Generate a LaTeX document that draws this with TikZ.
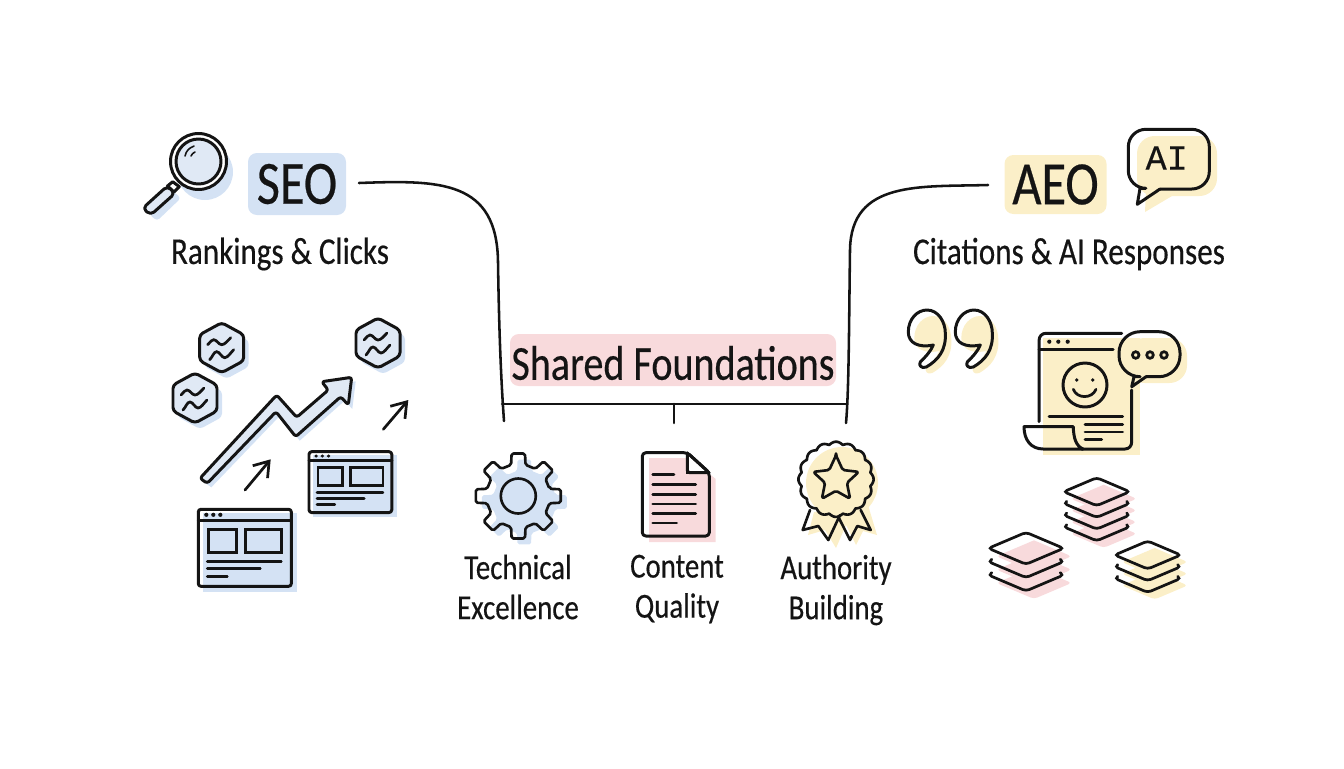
\documentclass[tikz,border=0pt]{standalone}
\usepackage{fontspec}
\setmainfont[FakeStretch=0.82,FakeBold=0.4]{Carlito}
\newfontfamily\aifont[FakeBold=0.3]{Liberation Mono}
\usetikzlibrary{arrows.meta}
\definecolor{ink}{HTML}{141414}
\definecolor{washBlue}{HTML}{D4E2F4}
\definecolor{paleBlue}{HTML}{E0E9F5}
\definecolor{washYellow}{HTML}{FBEFC8}
\definecolor{washPink}{HTML}{F8DADC}
\tikzset{
  icon/.style={draw=ink,line width=1.7pt,line join=round,line cap=round},
  fine/.style={draw=ink,line width=1.55pt,line cap=round},
  link/.style={draw=ink,line width=1.45pt,line cap=round},
  title/.style={fill=#1,rounded corners=5pt,inner sep=0pt,font=\fontsize{35}{35}\selectfont,text=ink},
  lbl/.style={align=center,text=ink,font=\fontsize{20}{22.8}\selectfont},
  headlbl/.style={text=ink,font=\fontsize{21.6}{24}\selectfont},
  pics/hexicon/.style={code={
    \fill[washBlue,rounded corners=2pt,shift={(5,6)}] (0,-25) -- (22,-13) -- (22,13) -- (0,25) -- (-22,13) -- (-22,-13) -- cycle;
    \draw[icon,fill=paleBlue,rounded corners=2pt] (0,-25) -- (22,-13) -- (22,13) -- (0,25) -- (-22,13) -- (-22,-13) -- cycle;
    \draw[fine] (-14,-3) .. controls (-11,-6) and (-10,-8) .. (-8,-8) .. controls (-5,-8) and (-3,-3) .. (0,-3) .. controls (3,-3) and (6,-7) .. (9,-10);
    \draw[fine] (-12,12) .. controls (-9,9) and (-8,4) .. (-5,4) .. controls (-2,4) and (0,10) .. (3,10) .. controls (6,10) and (9,5) .. (12,2);
  }},
  pics/browser/.style={code={
    \fill[washBlue] (5,4) rectangle (99,83);
    \draw[icon,rounded corners=1.5pt] (0,0) rectangle (93,77);
    \draw[icon] (0,11) -- (93,11);
    \foreach \dx in {8,15,22} \fill[ink] (\dx,5.5) circle [radius=2.1];
    \draw[fine] (10,20) rectangle (38,43);
    \draw[fine] (47,20) rectangle (83,43);
    \draw[fine] (9,52) -- (83,52);
    \draw[fine] (9,59) -- (62,59);
    \draw[fine] (9,67) -- (29,67);
  }},
  pics/quotemark/.style={code={
    \fill[washYellow,shift={(6,6)}] (18.7,0) .. controls (30,0) and (37,12) .. (37,23) .. controls (38,40) and (30,50) .. (18,57) .. controls (13,59) and (10,55) .. (12,52) .. controls (17,47) and (22,42) .. (25,35) .. controls (10,38) and (0,33) .. (0,22) .. controls (0,9) and (9,0) .. (18.7,0) -- cycle;
    \draw[icon] (18.7,0) .. controls (30,0) and (37,12) .. (37,23) .. controls (38,40) and (30,50) .. (18,57) .. controls (13,59) and (10,55) .. (12,52) .. controls (17,47) and (22,42) .. (25,35) .. controls (10,38) and (0,33) .. (0,22) .. controls (0,9) and (9,0) .. (18.7,0) -- cycle;
  }},
  pics/stack/.style 2 args={code={
    \foreach \i in {#1,...,0}
      \fill[#2,rounded corners=2pt] (-26,7+\i*11.7) -- (7,\i*11.7-7) -- (40,7+\i*11.7) -- (7,\i*11.7+21) -- cycle;
    \foreach \i in {#1,...,1}
      \draw[fine,rounded corners=2pt] (-30,\i*11.7-2) -- (-33,\i*11.7) -- (0,\i*11.7+14) -- (33,\i*11.7) -- (30,\i*11.7-2);
    \fill[white,rounded corners=2pt] (-33,0) -- (0,-14) -- (33,0) -- (0,14) -- cycle;
    \begin{scope}
      \clip (-33,0) -- (0,-14) -- (33,0) -- (0,14) -- cycle;
      \fill[#2] (-26,7) -- (7,-7) -- (40,7) -- (7,21) -- cycle;
    \end{scope}
    \draw[fine,rounded corners=2pt] (-33,0) -- (0,-14) -- (33,0) -- (0,14) -- cycle;
  }}
}
\begin{document}
\begin{tikzpicture}[x=0.02cm,y=-0.02cm]
\useasboundingbox (0,0) rectangle (1344,768);

\node[title=washBlue,minimum width=98*0.02cm,minimum height=62*0.02cm] (nSeo) at (297,184) {SEO};
\node[title=washYellow,minimum width=102*0.02cm,minimum height=59*0.02cm] (nAeo) at (1055.5,184.5) {AEO};
\node[title=washPink,minimum width=326*0.02cm,minimum height=52*0.02cm,font=\fontsize{27.8}{27.8}\selectfont] (nShared) at (673,360) {\raisebox{-1.7pt}[\height][\depth]{Shared Foundations}};
\node[headlbl] (nRank) at (280,254) {Rankings \& Clicks};
\node[headlbl] (nCite) at (1069,254) {Citations \& AI Responses};
\node[lbl] (nTech) at (518,587) {Technical\\Excellence};
\node[lbl] (nCont) at (677,589) {Content\\Quality};
\node[lbl] (nAuth) at (836,590) {Authority\\Building};

\coordinate (cSeo) at (359,183);
\coordinate (cAeo) at (988,185);
\coordinate (cBarL) at (502,404);
\coordinate (cBarM) at (674,404);
\coordinate (cBarR) at (847,404);
\coordinate (cTech) at (504,421);
\coordinate (cCont) at (674,423);
\coordinate (cAuth) at (846,423);
\draw[link] (cSeo) .. controls (440,180) and (497,180) .. (498,262) .. controls (499,330) and (501,380) .. (cTech);
\draw[link] (cAeo) .. controls (920,187) and (851,180) .. (850,250) .. controls (849,320) and (849,390) .. (cAuth);
\draw[link] (cBarL) -- (cBarR);
\draw[link] (cBarM) -- (cCont);

\fill[washBlue] (205,172) circle [radius=28];
\fill[washBlue,rounded corners=2pt] (173,191) -- (181,198) -- (157,221) -- (149,214) -- cycle;
\draw[icon,fill=white] (198.5,161.5) circle [radius=28];
\draw[icon,fill=paleBlue] (198.5,161.5) circle [radius=22.5];
\draw[fine,line width=0.9pt] (185,156) .. controls (186,151) and (189,148) .. (194,146);
\draw[fine,line width=0.9pt] (191,156) .. controls (192,154) and (193,153) .. (195,152);
\draw[icon,fill=white] (172.7,181.7) -- (179.3,186.7) -- (174,192) -- (167.5,186) -- cycle;
\draw[icon,fill=paleBlue,rounded corners=2.5pt] (167.3,186) -- (175,193.3) -- (150.7,215) -- (142.7,208.3) -- cycle;

\pic at (221.7,347.7) {hexicon};
\pic at (195,398) {hexicon};
\pic at (378,343) {hexicon};

\fill[washBlue,shift={(4,4)}] (200,478.3) -- (276.7,395) -- (296.7,417.3) -- (328.3,390) -- (321.7,381.7) -- (351.7,377.3) -- (348.3,405) -- (340.7,396.7) -- (295.7,436.7) -- (276,411.7) -- (207.3,483.3) -- cycle;
\draw[icon,fill=paleBlue,rounded corners=1.5pt] (200,478.3) -- (276.7,395) -- (296.7,417.3) -- (328.3,390) -- (321.7,381.7) -- (351.7,377.3) -- (348.3,405) -- (340.7,396.7) -- (295.7,436.7) -- (276,411.7) -- (207.3,483.3) -- cycle;
\draw[fine,-{Straight Barb[length=8pt,width=11pt]}] (245,490) -- (270.7,459.3);
\draw[fine,-{Straight Barb[length=8pt,width=11pt]}] (383.3,429.3) -- (408.3,400);

\pic at (198.3,509.3) {browser};
\pic[xscale=0.89,yscale=0.79] at (309,451.7) {browser};

\begin{scope}[shift={(518.3,496)}]
\fill[washBlue,shift={(6,6)},rounded corners=1pt] (-13:32) \foreach \a in {0,45,...,315} {-- (\a-13:32) -- (\a-9:43) -- (\a+9:43) -- (\a+13:32)} -- cycle;
\draw[icon,rounded corners=1pt,line width=1.5pt] (-13:32) \foreach \a in {0,45,...,315} {-- (\a-13:32) -- (\a-9:43) -- (\a+9:43) -- (\a+13:32)} -- cycle;
\draw[icon,line width=1.5pt] (0,0) circle [radius=17.5];
\end{scope}

\fill[washPink] (649,458) -- (690,458) -- (715.7,479) -- (715.7,542) -- (649,542) -- cycle;
\draw[icon,fill=white,rounded corners=1.5pt] (687.3,452.7) -- (709.3,472.7) -- (687.3,472.7) -- cycle;
\draw[icon,rounded corners=2pt] (687.3,452.7) -- (642.3,452.7) -- (642.3,536) -- (709.3,536) -- (709.3,472.7) -- cycle;
\draw[fine] (687.3,452.7) -- (687.3,472.7) -- (709.3,472.7);
\draw[fine] (652.7,474.3) -- (674,474.3);
\foreach \ly in {484.3,494.3,504,513.7} \draw[fine] (652.7,\ly) -- (695.7,\ly);
\draw[fine] (652.7,523) -- (676.7,523);

\fill[washYellow] (814,512) -- (808,535) -- (825,530) -- (836,548) -- (846,525) -- (856,545) -- (863,531) -- (877,535) -- (868,505) -- cycle;
\fill[washYellow] (842,483) circle [radius=36];
\draw[icon,line width=1.5pt] (810,510) -- (802.7,530) -- (818.3,526) -- (828.3,540) -- (840,515);
\draw[icon,line width=1.5pt] (838.3,516.7) -- (850,540) -- (857.3,526) -- (870.7,530) -- (860.7,510);
\draw[icon,line width=1.5pt] plot[domain=0:360,samples=193] ({836+(35+2.6*abs(cos(8*\x)))*cos(\x)},{479.3+(35+2.6*abs(cos(8*\x)))*sin(\x)}) -- cycle;
\draw[icon,line width=1.5pt,rounded corners=1pt] (836,455.3) \foreach \s in {0,...,4} {-- ({836+24*cos(-90+72*\s)},{479.3+24*sin(-90+72*\s)}) -- ({836+11.5*cos(-54+72*\s)},{479.3+11.5*sin(-54+72*\s)})} -- cycle;

\fill[washYellow,rounded corners=10pt] (1137,136) rectangle (1217,196);
\fill[washYellow] (1146,190) -- (1145,212) -- (1172,196) -- cycle;
\draw[icon,rounded corners=10pt] (1140,188.3) -- (1128.3,188.3) -- (1128.3,129.3) -- (1209.3,129.3) -- (1209.3,189) -- (1160,189);
\draw[icon] (1140,188.3) -- (1137.3,204.3) -- (1160,189);
\node[text=ink,font=\aifont\fontsize{20}{20}\selectfont] (nAi) at (1166.7,158) {AI};

\pic at (908.3,310) {quotemark};
\pic at (955.3,310) {quotemark};

\fill[washYellow] (1043,338) rectangle (1140,455);
\fill[washYellow,rounded corners=10pt] (1127,338) rectangle (1187,383);
\fill[white] (1039,429) rectangle (1043,450);
\draw[icon] (1039,421.7) -- (1039,341) .. controls (1039,336) and (1042,333.3) .. (1046,333.3) -- (1121.7,333.3);
\draw[icon] (1039,349) -- (1113,349);
\foreach \dx in {1049.3,1058.3,1067.7} \fill[ink] (\dx,341.7) circle [radius=2.1];
\draw[icon] (1131.7,390) -- (1131.7,441.7) .. controls (1131.7,446) and (1129,449) .. (1125,449) -- (1081.7,449);
\draw[icon] (1024,426.7) -- (1073.3,426.7) .. controls (1073.5,438) and (1076,446) .. (1083,449) -- (1043.3,449) .. controls (1031,449) and (1024,440) .. (1024,426.7) -- cycle;
\draw[icon] (1085,385) circle [radius=22];
\fill[ink] (1076.7,380) circle [radius=1.9];
\fill[ink] (1092.7,380) circle [radius=1.9];
\draw[fine] (1073.3,389.3) .. controls (1077,399) and (1092,399) .. (1096,389.3);
\draw[fine] (1049,416.7) -- (1122.7,416.7);
\draw[fine] (1085,424.3) -- (1122.7,424.3);
\draw[fine] (1085,432) -- (1122.7,432);
\draw[fine] (1085,439.3) -- (1101.7,439.3);
\draw[icon,rounded corners=12pt] (1134,376.7) -- (1119,376.7) -- (1119,331.7) -- (1180,331.7) -- (1180,376.7) -- (1146,376.7);
\draw[icon] (1146,376.7) -- (1131.7,386.7) -- (1134,376.7);
\foreach \dx in {1135.7,1150,1164} \draw[fine] (\dx,355) circle [radius=3.3];

\pic at (1096.7,491.7) {stack={3}{washPink}};
\pic[scale=1.14] at (1026,548.3) {stack={2}{washPink}};
\pic at (1147.7,555) {stack={2}{washYellow}};
\end{tikzpicture}
\end{document}
